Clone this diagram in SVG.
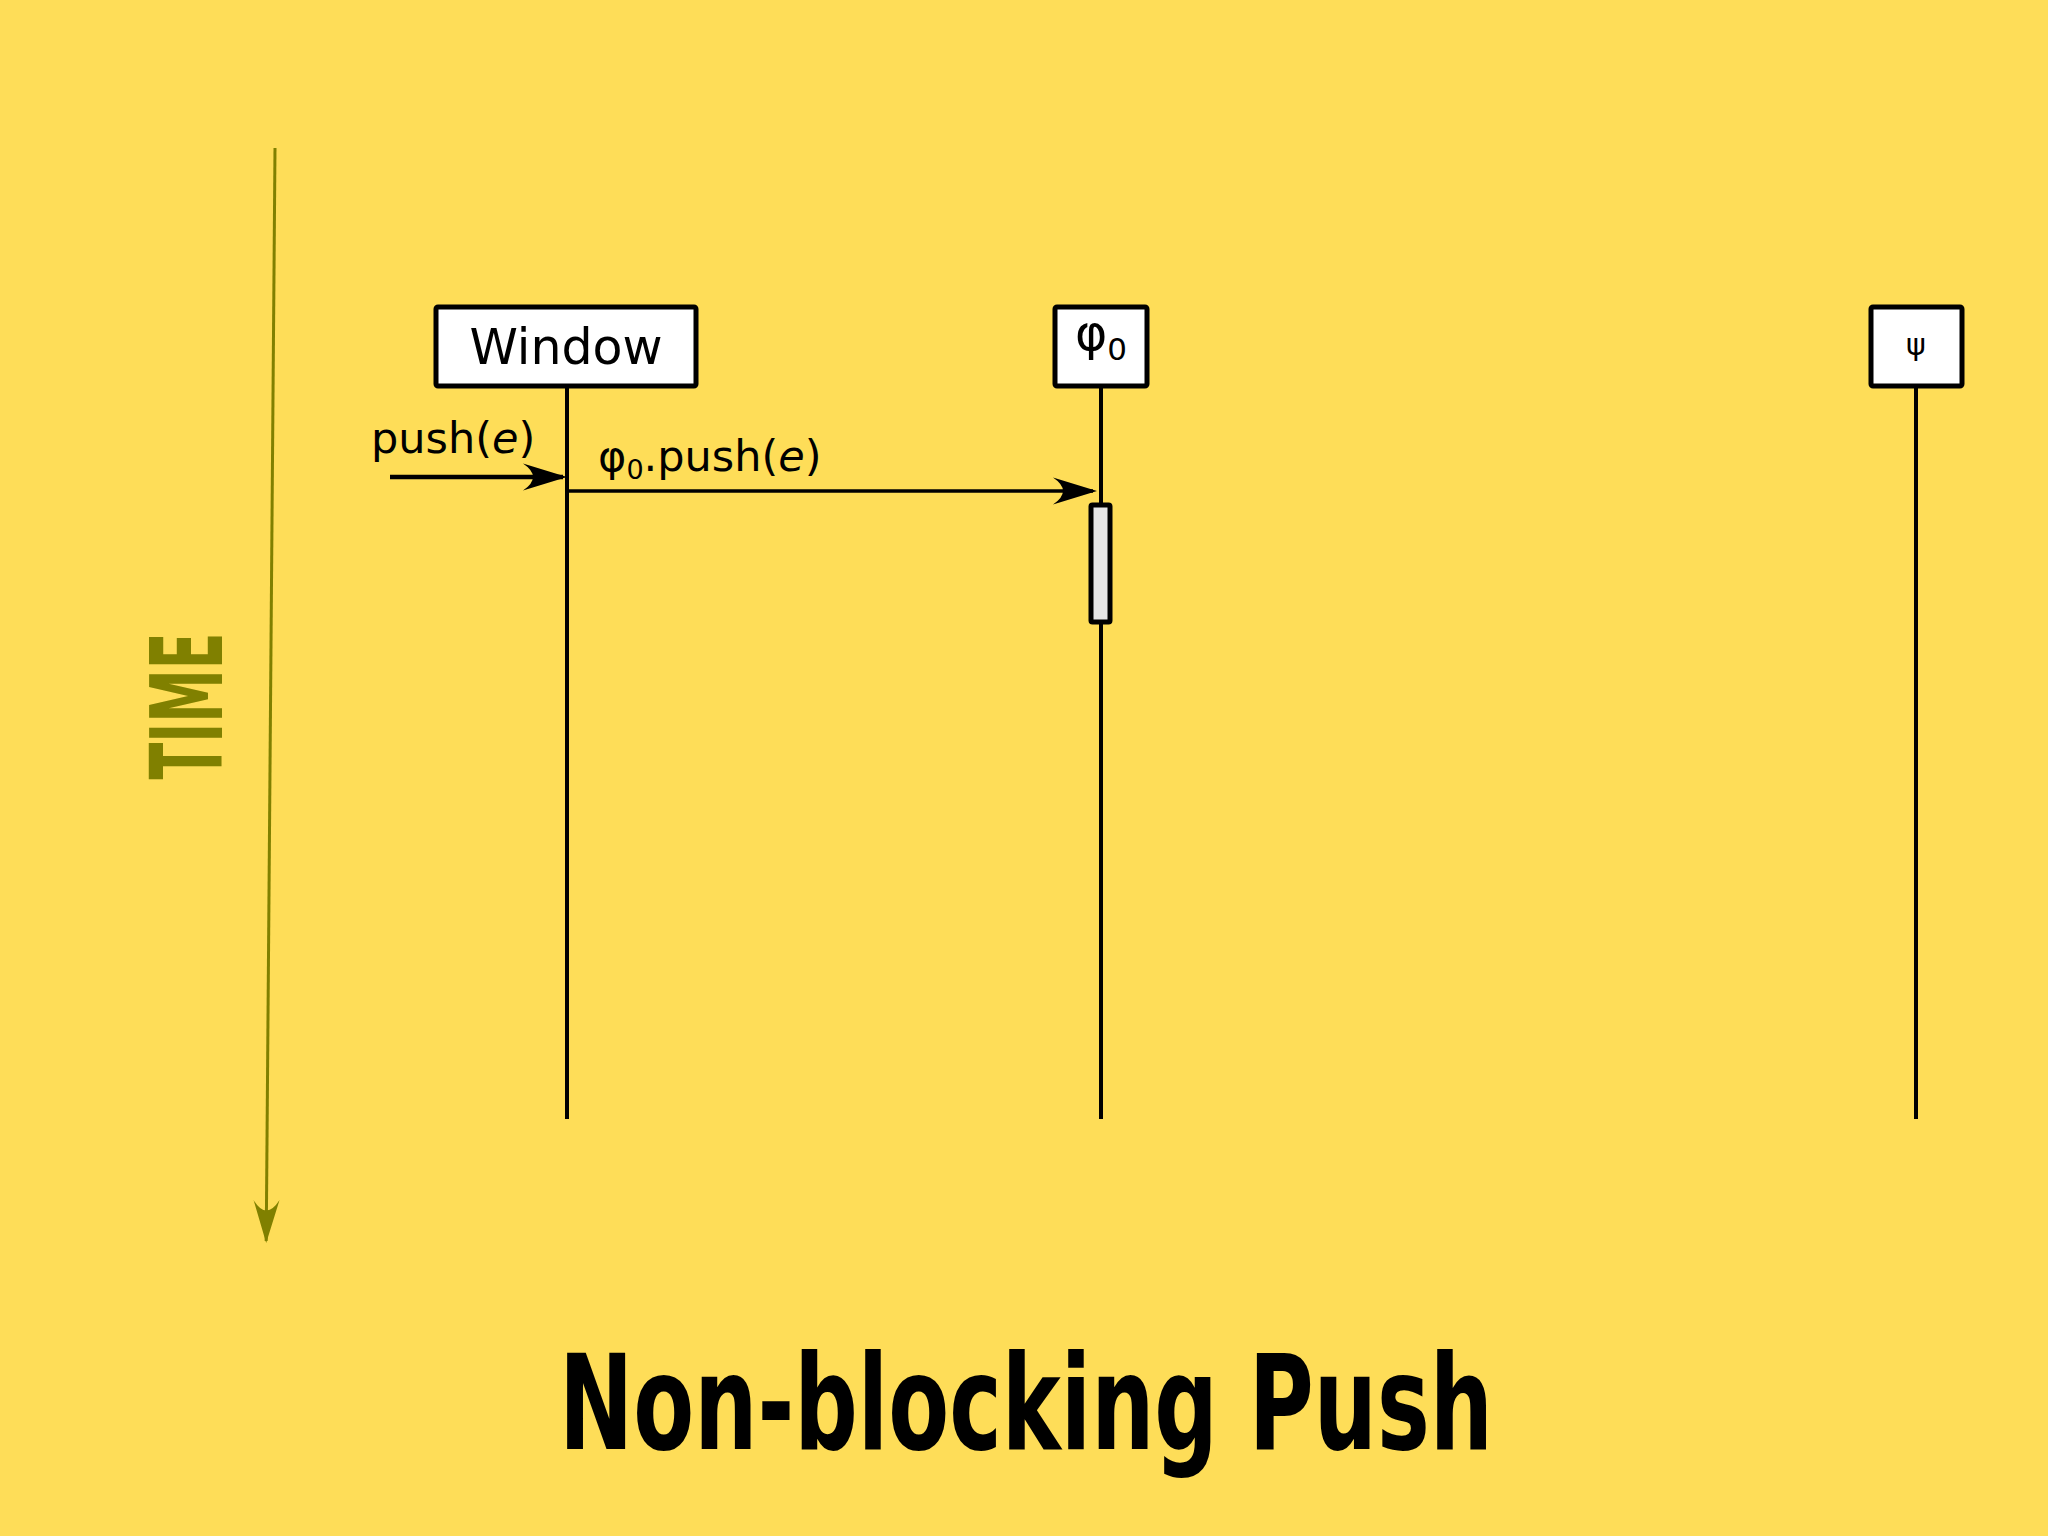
<svg xmlns="http://www.w3.org/2000/svg" width="2048" height="1536" viewBox="0 0 2048 1536">
<defs>
<style>
.box{fill:#fff;stroke:#000;stroke-width:5;}
.life{stroke:#000;stroke-width:4;fill:none;}
.lbl{font-family:"DejaVu Sans",sans-serif;fill:#000;}
.msg{stroke:#000;fill:none;}
.title{font-family:"DejaVu Sans Condensed","DejaVu Sans",sans-serif;font-weight:bold;}
</style>
<marker id="ah" markerUnits="userSpaceOnUse" orient="auto" refX="-4" refY="0" markerWidth="60" markerHeight="40" viewBox="-48 -20 60 40" overflow="visible">
<path d="M0,0 L-44,-13.5 Q-24,0 -44,13.5 Z" fill="#000"/>
</marker>
<marker id="ahTime" markerUnits="userSpaceOnUse" orient="auto" refX="-2" refY="0" markerWidth="60" markerHeight="40" viewBox="-48 -20 60 40" overflow="visible">
<path d="M0,0 L-43,-13 Q-22,0 -43,13 Z" fill="#808000"/>
</marker>
</defs>
<rect x="0" y="0" width="2048" height="1536" fill="#FEDD58"/>

<g id="time-axis">
<line x1="275" y1="148" x2="266.2" y2="1241" stroke="#808000" stroke-width="3" marker-end="url(#ahTime)"/>
<text class="title" transform="translate(222,706) rotate(-90)" text-anchor="middle" font-size="99" fill="#808000" textLength="147" lengthAdjust="spacingAndGlyphs">TIME</text>
</g>

<g id="lifelines">
<line class="life" x1="567" y1="387" x2="567" y2="1119"/>
<line class="life" x1="1101" y1="387" x2="1101" y2="1119"/>
<line class="life" x1="1916" y1="387" x2="1916" y2="1119"/>
</g>

<g id="node-window">
<rect class="box" x="436" y="307" width="260" height="79" rx="2"/>
<text class="lbl" x="566" y="364" font-size="49" text-anchor="middle">Window</text>
</g>

<g id="node-phi0">
<rect class="box" x="1055" y="307" width="92" height="79" rx="2"/>
<text class="lbl" x="1101" y="350" font-size="49" text-anchor="middle">φ<tspan font-size="31" dy="10">0</tspan></text>
</g>

<g id="node-psi">
<rect class="box" x="1871" y="307" width="91" height="79" rx="2"/>
<text class="lbl" x="1916" y="355" font-size="30" text-anchor="middle">ψ</text>
</g>

<g id="activation-phi0">
<rect x="1091" y="505" width="19" height="117" rx="1.5" fill="#e6e6e6" stroke="#000" stroke-width="5"/>
</g>

<g id="connectors">
<line class="msg" x1="390" y1="477" x2="563" y2="477" stroke-width="4.5" marker-end="url(#ah)"/>
<text class="lbl" x="371" y="453" font-size="43">push(<tspan font-style="italic">e</tspan>)</text>
<line class="msg" x1="569" y1="491" x2="1093" y2="491" stroke-width="3.5" marker-end="url(#ah)"/>
<text class="lbl" x="598" y="471" font-size="43">φ<tspan font-size="27" dy="8">0</tspan><tspan dy="-8">.push(</tspan><tspan font-style="italic">e</tspan>)</text>
</g>

<g id="title">
<text class="title" x="559" y="1449" font-size="132" fill="#000" textLength="934" lengthAdjust="spacingAndGlyphs">Non-blocking Push</text>
</g>
</svg>
